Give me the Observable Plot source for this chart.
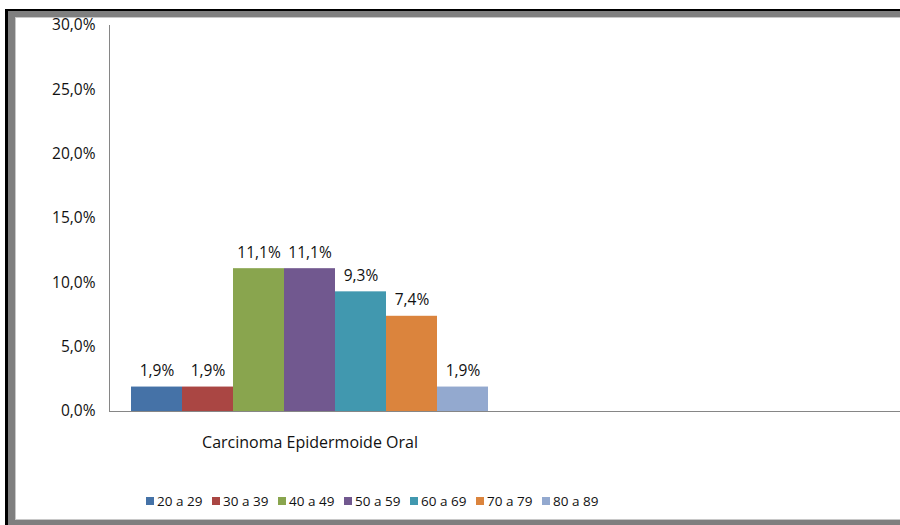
<!DOCTYPE html>
<html>
<head>
<meta charset="utf-8">
<script src="https://cdn.jsdelivr.net/npm/d3@7"></script>
<script src="https://cdn.jsdelivr.net/npm/@observablehq/plot@0.6"></script>
<style>
  html, body { margin: 0; padding: 0; background: #fff; width: 900px; height: 525px; overflow: hidden; }
  body { position: relative; font-family: "Open Sans", sans-serif; }
  #frame { position: absolute; left: 5px; top: 9px; width: 895px; height: 516px;
           border-left: 3px solid #000; border-top: 2px solid #000; box-sizing: border-box; z-index: 2; pointer-events: none; }
  #frame2 { position: absolute; left: 0; top: 0; right: 0; height: 515px;
            border-left: 7px solid #7f7f7f; border-top: 6px solid #7f7f7f; border-bottom: 6px solid #7f7f7f; box-sizing: border-box; }
  #frame3 { position: absolute; left: 0; top: 0; right: 0; bottom: 0;
            border-left: 1px solid #c8c8c8; border-top: 1px solid #c8c8c8; border-bottom: 1px solid #c8c8c8; }
  #chart { position: absolute; left: 0; top: 0; z-index: 1; }
  #legend { position: absolute; left: 146px; top: 492px; display: flex; z-index: 1; font-size: 13.5px; color: #111; }
  .item { width: 66px; display: flex; align-items: center; white-space: nowrap; }
  .sw { width: 8px; height: 8px; margin-right: 3px; flex: none; }
</style>
</head>
<body>
<div id="frame"><div id="frame2"><div id="frame3"></div></div></div>
<div id="chart"></div>
<div id="legend"></div>
<script>
const category = "Carcinoma Epidermoide Oral";
const ages = ["20 a 29", "30 a 39", "40 a 49", "50 a 59", "60 a 69", "70 a 79", "80 a 89"];
const values = [1.9, 1.9, 11.1, 11.1, 9.3, 7.4, 1.9];
const colors = ["#4572A7", "#AA4643", "#89A54E", "#71588F", "#4198AF", "#DB843D", "#93A9CF"];
const yTicks = [0, 5, 10, 15, 20, 25, 30];

const data = ages.map((a, i) => ({age: a, value: values[i]}));
const fmt = v => d3.format(".1f")(v).replace(".", ",") + "%";

const chart = Plot.plot({
  width: 900,
  height: 460,
  marginLeft: 109,
  marginRight: 0,
  marginTop: 25,
  marginBottom: 49,
  style: {fontFamily: "Open Sans, sans-serif", fontSize: "15.5px", color: "#111", background: "transparent", overflow: "hidden"},
  x: {domain: ages, range: [129, 490], padding: 0, axis: null},
  y: {domain: [0, 30], ticks: yTicks, tickFormat: fmt, tickSize: 0, tickPadding: 14, label: null, line: true},
  color: {domain: ages, range: colors},
  marks: [
    Plot.barY(data, {x: "age", y: "value", fill: "age", inset: 0}),
    Plot.text(data, {x: "age", y: "value", text: d => fmt(d.value), dy: -16, lineAnchor: "middle", fill: "#111", fontSize: 15.5}),
    Plot.ruleY([0], {stroke: "#868686", strokeWidth: 1}),
    Plot.text([category], {x: () => ages[3], y: () => 0, text: d => d, dy: 31, lineAnchor: "middle", fill: "#111", fontSize: 16})
  ]
});
chart.querySelectorAll("*").forEach(e => {
  if (e.getAttribute("stroke") === "currentColor") e.setAttribute("stroke", "#868686");
});
document.getElementById("chart").appendChild(chart);

const legend = document.getElementById("legend");
ages.forEach((a, i) => {
  const it = document.createElement("div");
  it.className = "item";
  it.innerHTML = `<span class="sw" style="background:${colors[i]}"></span><span>${a}</span>`;
  legend.appendChild(it);
});
</script>
</body>
</html>
